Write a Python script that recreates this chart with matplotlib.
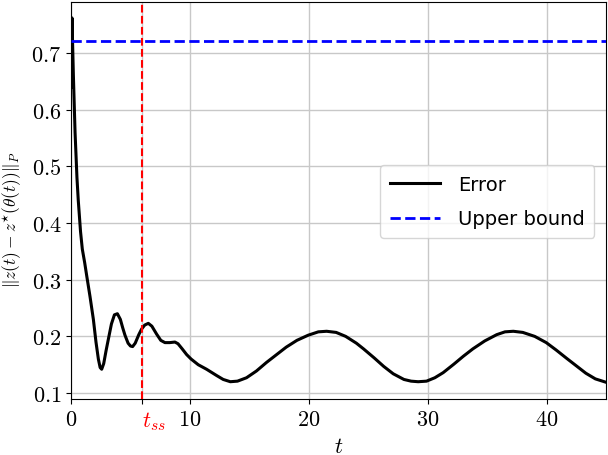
import matplotlib
matplotlib.use("Agg")
import matplotlib.pyplot as plt

plt.rcParams['mathtext.fontset'] = 'cm'
plt.rcParams['font.family'] = ['DejaVu Sans']

# Error curve
t = [0.0, 0.08, 0.2, 0.34, 0.5, 0.61, 0.8, 0.95, 1.15, 1.32, 1.6, 1.88, 2.1, 2.3,
     2.45, 2.58, 2.75, 2.95, 3.14, 3.4, 3.65, 3.9, 4.15, 4.35, 4.54, 4.8, 5.0,
     5.18, 5.4, 5.7, 5.94, 6.2, 6.5, 6.8, 7.2, 7.55, 7.9, 8.3, 8.74, 9.0, 9.35,
     9.72, 10.1, 10.7, 11.4, 12.24, 12.8, 13.4, 14.0, 14.76, 15.6, 16.44, 17.3,
     18.1, 19.0, 19.94, 20.8, 21.5, 22.3, 23.1, 24.0, 24.6, 25.5, 26.3, 27.1,
     28.0, 28.6, 29.2, 29.9, 30.6, 31.3, 32.2, 33.0, 33.8, 34.8, 35.8, 36.5,
     37.2, 38.0, 39.0, 39.97, 40.8, 41.7, 42.5, 43.3, 44.1, 45.0]
error = [0.64, 0.762, 0.66, 0.56, 0.48, 0.44, 0.385, 0.354, 0.33, 0.307, 0.27,
         0.23, 0.19, 0.16, 0.145, 0.142, 0.152, 0.175, 0.195, 0.222, 0.238, 0.24,
         0.23, 0.215, 0.202, 0.188, 0.183, 0.182, 0.188, 0.203, 0.213, 0.22,
         0.223, 0.218, 0.204, 0.193, 0.189, 0.189, 0.19, 0.187, 0.178, 0.168,
         0.16, 0.15, 0.142, 0.131, 0.124, 0.12, 0.121, 0.127, 0.139, 0.154,
         0.168, 0.181, 0.193, 0.202, 0.208, 0.209, 0.207, 0.2, 0.188, 0.178,
         0.162, 0.147, 0.134, 0.124, 0.121, 0.12, 0.121, 0.127, 0.136, 0.151,
         0.165, 0.178, 0.192, 0.203, 0.208, 0.209, 0.207, 0.2, 0.189, 0.176,
         0.161, 0.148, 0.135, 0.125, 0.119]

upper_bound = 0.721
t_ss = 6.0

xticks = [0, t_ss, 10, 20, 30, 40]
xticklabels = [r'$0$', r'$t_{ss}$', r'$10$', r'$20$', r'$30$', r'$40$']
yticks = [0.1, 0.2, 0.3, 0.4, 0.5, 0.6, 0.7]
yticklabels = [r'$0.1$', r'$0.2$', r'$0.3$', r'$0.4$', r'$0.5$', r'$0.6$', r'$0.7$']

fig = plt.figure(figsize=(6.08, 4.56), dpi=100)
ax = fig.add_axes([0.1168, 0.1228, 0.88, 0.8706])

ax.grid(True, color='#c8c8c8', linewidth=1.0, zorder=0)
ax.set_axisbelow(True)

ax.plot(t, error, color='black', linewidth=2.2, label='Error', zorder=3)
ax.axhline(upper_bound, color='blue', linestyle='--', linewidth=2.0, label='Upper bound', zorder=3)
ax.axvline(t_ss, color='red', linestyle='--', linewidth=1.5, zorder=4)

ax.set_xlim(0, 45)
ax.set_ylim(0.0895, 0.79)

ax.set_xticks(xticks)
ax.set_xticklabels(xticklabels, fontsize=16)
lbl = ax.get_xticklabels()[1]
lbl.set_color('red')
lbl.set_ha('left')
ax.set_yticks(yticks)
ax.set_yticklabels(yticklabels, fontsize=16)

ax.set_xlabel(r'$t$', fontsize=16, labelpad=3)
ax.set_ylabel(r'$\|z(t) - z^{\star}(\theta(t))\|_P$', fontsize=12.5)
ax.yaxis.set_label_coords(-0.088, 0.455)

ax.legend(loc='center', bbox_to_anchor=(0.778, 0.497), fontsize=14,
          handlelength=2.6, handletextpad=0.9, labelspacing=0.8,
          borderpad=0.5, framealpha=0.8, edgecolor='#cccccc')

fig.savefig('out.png', dpi=100)
